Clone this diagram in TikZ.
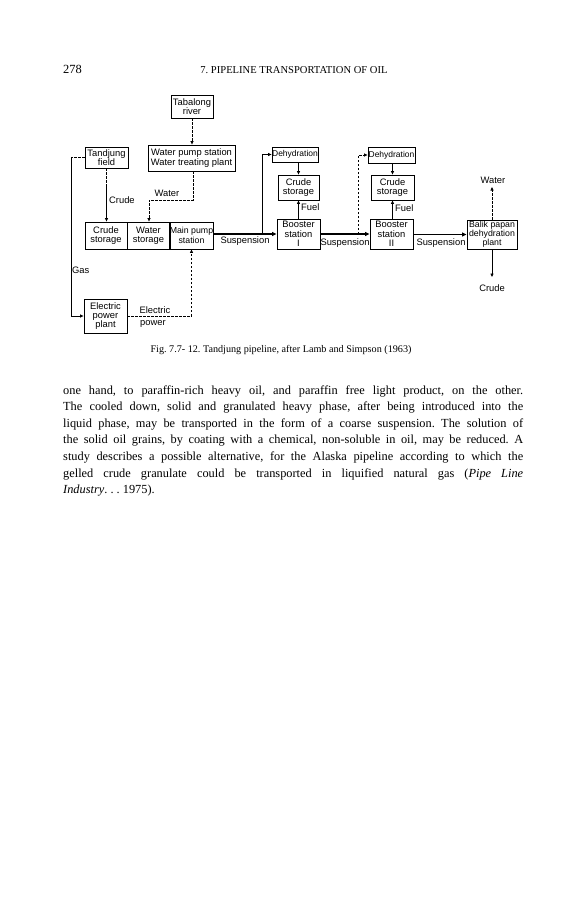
\documentclass[tikz,border=0pt]{standalone}
\usepackage{fontspec}
\setmainfont{Liberation Serif}
\newfontfamily\dgf{Liberation Sans}
\usetikzlibrary{arrows.meta}
\frenchspacing
\begin{document}
\begin{tikzpicture}[x=1bp,y=-1bp,
  box/.style={draw, line width=0.85bp, inner sep=0pt, align=center,
    font=\dgf\fontsize{9.4}{9.4}\selectfont},
  lbl/.style={inner sep=0pt, font=\dgf\fontsize{9.4}{9.4}\selectfont},
  arr/.style={-{Triangle[length=3.5bp,width=3bp]}, line width=0.7bp},
  ln/.style={line width=0.7bp},
  thk/.style={-{Triangle[length=4.5bp,width=4bp]}, line width=1.8bp},
  dsh/.style={dash pattern=on 2.5bp off 1.5bp}]
\useasboundingbox (0,0) rectangle (587,900);
% header
\node[anchor=base west, inner sep=0pt, font=\fontsize{12.5}{14}\selectfont] (pg) at (63,73) {278};
\node[anchor=base, inner sep=0pt, font=\fontsize{10.6}{12}\selectfont] (hd) at (294,73) {7. PIPELINE TRANSPORTATION OF OIL};
% boxes
\node[box, minimum width=42bp, minimum height=23bp] (tab) at (192,106.5) {Tabalong\\river};
\node[box, minimum width=87bp, minimum height=26bp] (wps) at (191.5,158) {Water pump station\\Water treating plant};
\node[box, minimum width=43bp, minimum height=21bp] (tf) at (106.5,157.5) {Tandjung\\field};
\node[box, minimum width=42bp, minimum height=27bp] (cs) at (106,235.5) {Crude\\storage};
\node[box, minimum width=43bp, minimum height=27bp] (ws) at (148.5,235.5) {Water\\storage};
\node[box, minimum width=43bp, minimum height=27bp, font=\dgf\fontsize{8.8}{9.4}\selectfont] (mps) at (191.5,235.5) {Main pump\\station};
\node[box, minimum width=43bp, minimum height=34bp] (epp) at (105.5,316) {Electric\\power\\plant};
\node[box, minimum width=43bp, minimum height=30bp] (bs1) at (298.5,234) {Booster\\station\\I};
\node[box, minimum width=46bp, minimum height=15bp, font=\dgf\fontsize{8.5}{9}\selectfont] (dh1) at (295,154.5) {Dehydration};
\node[box, minimum width=41bp, minimum height=25bp] (cs1) at (298.5,187.5) {Crude\\storage};
\node[box, minimum width=43bp, minimum height=30bp] (bs2) at (391.5,234) {Booster\\station\\II};
\node[box, minimum width=47bp, minimum height=16bp, font=\dgf\fontsize{8.5}{9}\selectfont] (dh2) at (391.5,155) {Dehydration};
\node[box, minimum width=43bp, minimum height=25bp] (cs2) at (392.5,187.5) {Crude\\storage};
\node[box, minimum width=50bp, minimum height=29bp, font=\dgf\fontsize{8.8}{9.2}\selectfont] (bp) at (492,234.5) {Balik papan\\dehydration\\plant};
% labels
\node[lbl, anchor=west] (lcrude) at (109,200) {Crude};
\node[lbl] (lwater) at (167,193) {Water};
\node[lbl, anchor=west] (lgas) at (72,270) {Gas};
\node[lbl] (lel) at (155,310) {Electric};
\node[lbl] (lpow) at (153,324) {power};
\node[lbl] (ls1) at (245,241.5) {Suspension};
\node[lbl] (ls2) at (345,243) {Suspension};
\node[lbl] (ls3) at (441,243) {Suspension};
\node[lbl, anchor=west] (lf1) at (301,207) {Fuel};
\node[lbl, anchor=west] (lf2) at (395,208) {Fuel};
\node[lbl] (lw2) at (493,180) {Water};
\node[lbl] (lc2) at (492,288) {Crude};
% coordinates
\coordinate (g1) at (71,157.5);
\coordinate (g2) at (71,316);
\coordinate (c1) at (106.5,185);
\coordinate (w1) at (193,200);
\coordinate (w2) at (149,200);
\coordinate (e1) at (191.5,316);
\coordinate (b1) at (262,234);
\coordinate (b2) at (358,234);
\coordinate (wt) at (492,187);
\coordinate (ct) at (492,277);
% connectors
\draw[arr,dsh] (tab.south) -- (tab.south |- wps.north);
\draw[ln,dsh] (tf.west) -- (g1);
\draw[arr] (g1) -- (g2) -- (epp.west);
\draw[ln,dsh] (tf.south) -- (c1);
\draw[arr] (c1) -- (c1 |- cs.north);
\draw[arr,dsh] (wps.south -| w1) -- (w1) -- (w2) -- (w2 |- ws.north);
\draw[arr,dsh] (epp.east |- e1) -- (e1) -- (mps.south);
\draw[thk] (mps.east |- bs1.west) -- (bs1.west);
\draw[arr] (b1) -- (b1 |- dh1.west) -- (dh1.west);
\draw[arr] (dh1.south -| cs1.north) -- (cs1.north);
\draw[arr] (bs1.north) -- (cs1.south);
\draw[thk] (bs1.east) -- (bs2.west);
\draw[arr,dsh] (b2) -- (b2 |- dh2.west) -- (dh2.west);
\draw[arr] (dh2.south -| cs2.north) -- (cs2.north);
\draw[arr] (bs2.north -| cs2.south) -- (cs2.south);
\draw[thk] (bs2.east |- bp.west) -- (bp.west);
\draw[arr,dsh] (bp.north) -- (wt);
\draw[arr] (bp.south) -- (ct);
% caption
\node[anchor=base, inner sep=0pt, font=\fontsize{10.2}{12}\selectfont] (cap) at (281,352) {Fig. 7.7- 12. Tandjung pipeline, after Lamb and Simpson (1963)};
% body text
\node[anchor=base west, inner sep=0pt, align=left, font=\fontsize{12.4}{16.6}\selectfont] (body) at (63,493.6) {%
\makebox[460bp][s]{one hand, to paraffin-rich heavy oil, and paraffin free light product, on the other.}\\
\makebox[460bp][s]{The cooled down, solid and granulated heavy phase, after being introduced into the}\\
\makebox[460bp][s]{liquid phase, may be transported in the form of a coarse suspension. The solution of}\\
\makebox[460bp][s]{the solid oil grains, by coating with a chemical, non-soluble in oil, may be reduced. A}\\
\makebox[460bp][s]{study describes a possible alternative, for the Alaska pipeline according to which the}\\
\makebox[460bp][s]{gelled crude granulate could be transported in liquified natural gas (\textit{Pipe Line}}\\
\textit{Industry}. . . 1975).};
\end{tikzpicture}
\end{document}
